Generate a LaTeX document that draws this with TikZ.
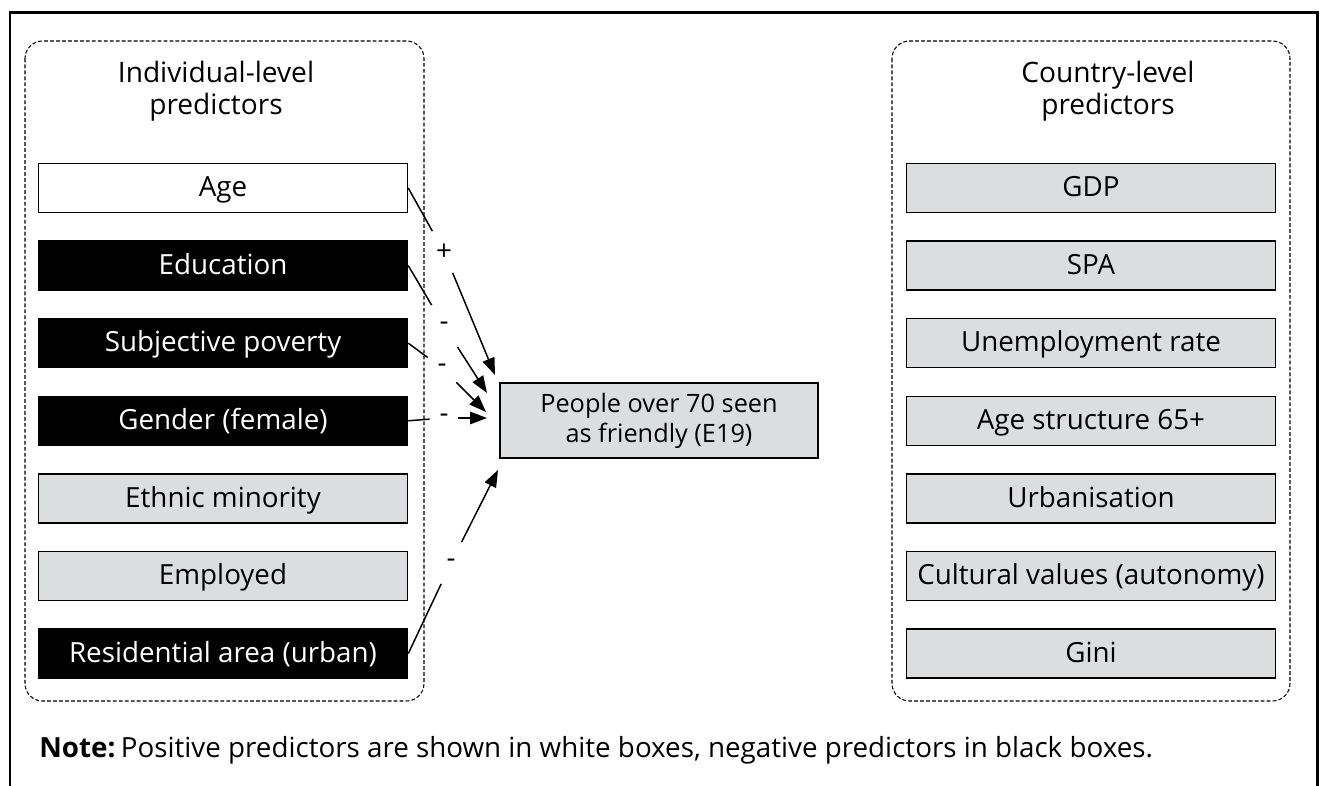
\documentclass[tikz,border=0pt]{standalone}
\usepackage{fontspec}
\setmainfont{Open Sans}
\usetikzlibrary{arrows.meta}
\definecolor{boxgray}{RGB}{220,221,223}

\begin{document}
\begin{tikzpicture}[x=0.02cm, y=-0.02cm,
  pred/.style={draw=black, line width=0.9pt, minimum width=7.38cm, minimum height=0.98cm,
    inner sep=0pt, text height=11.4pt, text depth=1.5pt, font=\fontsize{15.8}{17}\selectfont},
  posbox/.style={pred, fill=white},
  negbox/.style={pred, fill=black, text=white},
  neubox/.style={pred, fill=boxgray},
  group/.style={draw, line width=0.6pt, dash pattern=on 2.2pt off 1.2pt, rounded corners=0.35cm},
  title/.style={align=center, inner sep=0pt, font=\fontsize{16}{18}\selectfont},
  sign/.style={minimum width=0.56cm, minimum height=0.82cm, inner sep=0pt,
    font=\fontsize{15.8}{17}\selectfont},
  link/.style={line width=0.85pt},
  arr/.style={link, -{Triangle[length=0.34cm,width=0.25cm]}},
]
  \useasboundingbox (0,0) rectangle (1322,786);
  \draw[line width=1.7pt] (10,800) -- (10,13) -- (1317,13) -- (1317,800);

  \draw[group] (25,41) rectangle (424,701);
  \draw[group] (892,41) rectangle (1290,701);

  \node[title] (indiv)   at (216,91)  {Individual-level\\predictors};
  \node[title] (country) at (1108,91) {Country-level\\predictors};

  \node[posbox] (age) at (223,188)   {Age};
  \node[negbox] (edu) at (223,265.6) {Education};
  \node[negbox] (pov) at (223,343.2) {Subjective poverty};
  \node[negbox] (gen) at (223,420.8) {Gender (female)};
  \node[neubox] (eth) at (223,498.4) {Ethnic minority};
  \node[neubox] (emp) at (223,576)   {Employed};
  \node[negbox] (res) at (223,653.6) {Residential area (urban)};

  \node[neubox] (gdp)    at (1091,188)   {GDP};
  \node[neubox] (spa)    at (1091,265.6) {SPA};
  \node[neubox] (unemp)  at (1091,343.2) {Unemployment rate};
  \node[neubox] (agestr) at (1091,420.8) {Age structure 65+};
  \node[neubox] (urb)    at (1091,498.4) {Urbanisation};
  \node[neubox] (cult)   at (1091,576)   {Cultural values (autonomy)};
  \node[neubox] (gini)   at (1091,653.6) {Gini};

  \node[draw=black, line width=0.9pt, fill=boxgray, minimum width=6.36cm, minimum height=1.5cm,
    align=center, inner sep=0pt, font=\fontsize{14.4}{17}\selectfont]
    (e19) at (659,420.5) {People over 70 seen\\as friendly (E19)};

  \node[sign] (s1) at (444,252) {+};
  \node[sign] (s2) at (444,326) {-};
  \node[sign] (s3) at (442,368) {-};
  \node[sign] (s4) at (444,418) {-};
  \node[sign] (s5) at (451,563) {-};

  \coordinate (t1) at (495,375);
  \coordinate (t2) at (487,393);
  \coordinate (t3) at (486,412);
  \coordinate (t4) at (487,418);
  \coordinate (t5) at (498,470);

  \draw[link] (age.east) -- (s1);
  \draw[arr]  (s1) -- (t1);
  \draw[link] (edu.east) -- (s2);
  \draw[arr]  (s2) -- (t2);
  \draw[link] (pov.east) -- (s3);
  \draw[arr]  (s3) -- (t3);
  \draw[link] (gen.east) -- (s4);
  \draw[arr]  (s4) -- (t4);
  \draw[link] (res.east) -- (s5);
  \draw[arr]  (s5) -- (t5);

  \node[anchor=base west, inner sep=0pt, font=\fontsize{15.8}{17}\selectfont] (note) at (39,758)
    {\textbf{Note:}\hspace{-0.15em} Positive predictors are shown in white boxes, negative predictors in black boxes.};
\end{tikzpicture}
\end{document}
